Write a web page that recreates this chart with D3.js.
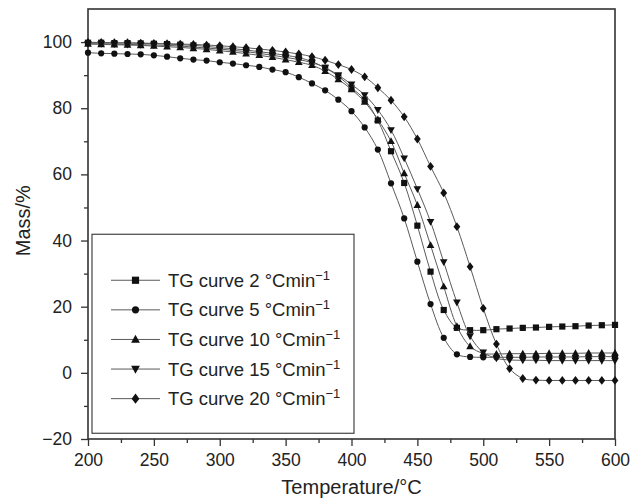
<!DOCTYPE html>
<html>
<head>
<meta charset="utf-8">
<script src="https://cdn.jsdelivr.net/npm/d3@7"></script>
<style>
  html, body { margin: 0; padding: 0; background: #fff; overflow: hidden; }
  svg { display: block; }
</style>
</head>
<body>
<svg id="chart"></svg>
<script>
/* data, mass % every 10 degC */
var temps = d3.range(200, 601, 10);

var tg2 = [99.8, 99.8, 99.7, 99.7, 99.6, 99.5, 99.4, 99.2, 99.0, 98.7,
           98.3, 98.0, 97.6, 97.1, 96.6, 96.0, 95.3, 94.1, 92.2, 89.7,
           86.2, 82.6, 76.3, 67.0, 57.4, 44.5, 30.6, 19.0, 13.6, 12.9,
           12.9, 13.2, 13.4, 13.6, 13.7, 13.9, 14.0, 14.1, 14.3, 14.4, 14.5];

var tg5 = [96.8, 96.6, 96.5, 96.4, 96.3, 96.0, 95.6, 95.1, 94.7, 94.4,
           93.9, 93.5, 93.0, 92.5, 91.7, 90.9, 89.4, 87.5, 85.4, 82.6,
           79.1, 74.2, 67.5, 57.3, 46.7, 33.6, 20.8, 10.6, 5.6, 4.8,
           4.7, 4.7, 4.7, 4.7, 4.8, 4.8, 4.8, 4.8, 4.9, 4.9, 4.9];

var tg10 = [99.4, 99.3, 99.2, 99.1, 99.0, 98.8, 98.6, 98.4, 98.1, 97.8,
            97.4, 97.0, 96.5, 96.0, 95.4, 94.7, 93.9, 93.0, 91.2, 88.7,
            85.7, 81.9, 76.6, 70.0, 60.3, 50.7, 38.6, 26.1, 14.1, 8.0,
            5.9, 5.7, 5.8, 5.8, 5.8, 5.9, 5.9, 5.9, 6.0, 6.0, 6.0];

var tg15 = [99.5, 99.5, 99.4, 99.3, 99.2, 99.1, 99.0, 98.8, 98.5, 98.2,
            97.9, 97.5, 97.1, 96.6, 96.0, 95.4, 94.7, 93.8, 92.3, 90.0,
            87.2, 84.0, 79.5, 73.4, 64.9, 55.6, 45.7, 33.5, 21.3, 11.1,
            6.2, 4.4, 3.9, 3.8, 3.8, 3.7, 3.7, 3.7, 3.7, 3.7, 3.7];

var tg20 = [99.9, 99.9, 99.8, 99.8, 99.7, 99.6, 99.5, 99.4, 99.3, 99.1,
            98.9, 98.6, 98.3, 97.9, 97.5, 97.0, 96.4, 95.6, 94.5, 93.2,
            91.7, 89.5, 86.2, 82.4, 77.4, 70.7, 62.4, 54.4, 44.2, 32.1,
            19.5, 8.7, 1.3, -1.7, -2.2, -2.3, -2.3, -2.3, -2.3, -2.3, -2.3];

var seriesNames = ["TG curve 2 \u00b0Cmin", "TG curve 5 \u00b0Cmin", "TG curve 10 \u00b0Cmin",
                   "TG curve 15 \u00b0Cmin", "TG curve 20 \u00b0Cmin"];
var seriesValues = [tg2, tg5, tg10, tg15, tg20];
var seriesMarkers = ["square", "circle", "triangleUp", "triangleDown", "diamond"];

var xTicks = [200, 250, 300, 350, 400, 450, 500, 550, 600];
var yTicks = [-20, 0, 20, 40, 60, 80, 100];

/* settings */
var width = 630,
    height = 502,
    margin = { top: 9, right: 15, bottom: 63, left: 88 },
    innerWidth = width - margin.left - margin.right,
    innerHeight = height - margin.top - margin.bottom,
    fontFamily = "Liberation Sans, Arial, Helvetica, sans-serif",
    textColor = "#222";

var svg = d3.select("#chart")
    .attr("width", width)
    .attr("height", height)
    .attr("viewBox", "0 0 " + width + " " + height)
    .attr("font-family", fontFamily);

var g = svg.append("g")
    .attr("transform", "translate(" + margin.left + "," + margin.top + ")");

/* scales */
var xScale = d3.scaleLinear().domain([200, 600]).range([0, innerWidth]);
var yScale = d3.scaleLinear().domain([-20, 110]).range([innerHeight, 0]);

/* marker shapes */
function markerPath(kind, s) {
    var h = s / 2;
    if (kind == "square") return "M" + (-h) + "," + (-h) + "h" + s + "v" + s + "h" + (-s) + "Z";
    if (kind == "circle") return d3.symbol().type(d3.symbolCircle).size(Math.PI * h * h)();
    if (kind == "triangleUp") return "M0," + (-h * 1.15) + "L" + (h * 1.1) + "," + (h * 0.8) + "L" + (-h * 1.1) + "," + (h * 0.8) + "Z";
    if (kind == "triangleDown") return "M0," + (h * 1.15) + "L" + (h * 1.1) + "," + (-h * 0.8) + "L" + (-h * 1.1) + "," + (-h * 0.8) + "Z";
    if (kind == "diamond") return "M0," + (-h * 1.3) + "L" + h + ",0L0," + (h * 1.3) + "L" + (-h) + ",0Z";
}
var markerSize = { square: 6.2, circle: 6.2, triangleUp: 7, triangleDown: 7, diamond: 6.8 };

/* x-axis */
var xAxis = d3.axisBottom(xScale).tickValues(xTicks).tickSize(7).tickPadding(8).tickFormat(d3.format("d"));
var xMinor = d3.axisBottom(xScale).tickValues(d3.range(225, 600, 50)).tickSize(4).tickFormat("");

g.append("g").attr("class", "x-axis").attr("transform", "translate(0," + innerHeight + ")").call(xAxis);
g.append("g").attr("class", "x-minor").attr("transform", "translate(0," + innerHeight + ")").call(xMinor);

/* y-axis */
var yAxis = d3.axisLeft(yScale).tickValues(yTicks).tickSize(7).tickPadding(9)
    .tickFormat(function(d) { return d < 0 ? "\u2212" + Math.abs(d) : d; });
var yMinor = d3.axisLeft(yScale).tickValues(d3.range(-10, 110, 20)).tickSize(4).tickFormat("");

g.append("g").attr("class", "y-axis").call(yAxis);
g.append("g").attr("class", "y-minor").call(yMinor);

g.selectAll(".domain").remove();
g.selectAll(".x-axis, .y-axis, .x-minor, .y-minor")
    .attr("font-family", fontFamily)
    .attr("font-size", 17.5);
g.selectAll(".tick text").attr("fill", textColor).attr("font-size", 17.5);
g.selectAll(".tick line").attr("stroke", "#333").attr("stroke-width", 1.3);

/* frame */
g.append("rect")
    .attr("width", innerWidth)
    .attr("height", innerHeight)
    .attr("fill", "none")
    .attr("stroke", "#333")
    .attr("stroke-width", 1.6);

/* axis labels */
svg.append("text")
    .attr("x", margin.left + innerWidth / 2)
    .attr("y", 494)
    .attr("text-anchor", "middle")
    .attr("font-size", 20)
    .attr("fill", textColor)
    .text("Temperature/\u00b0C");

var yLabelX = 30, yLabelY = margin.top + yScale(46);
svg.append("text")
    .attr("x", yLabelX)
    .attr("y", yLabelY)
    .attr("transform", "rotate(-90," + yLabelX + "," + yLabelY + ")")
    .attr("text-anchor", "middle")
    .attr("font-size", 20)
    .attr("fill", textColor)
    .text("Mass/%");

/* legend box (drawn under the curves) */
var legendX = margin.left + 4, legendY = margin.top + yScale(41.9);
var legendW = 262, legendH = 199;
svg.append("rect")
    .attr("x", legendX)
    .attr("y", legendY)
    .attr("width", legendW)
    .attr("height", legendH)
    .attr("fill", "#fff")
    .attr("stroke", "#333")
    .attr("stroke-width", 1.1);

/* curves */
var line = d3.line()
    .x(function(d) { return xScale(d.t); })
    .y(function(d) { return yScale(d.v); })
    .curve(d3.curveCatmullRom);

var curves = svg.append("g")
    .attr("transform", "translate(" + margin.left + "," + margin.top + ")");

seriesValues.forEach(function(vals, i) {
    var pts = temps.map(function(t, k) { return { t: t, v: vals[k] }; });
    var sg = curves.append("g").attr("class", "series s" + i);
    sg.append("path")
        .datum(pts)
        .attr("d", line)
        .attr("fill", "none")
        .attr("stroke", "#5a5a5a")
        .attr("stroke-width", 1);
    sg.selectAll("path.mk")
        .data(pts)
        .enter()
        .append("path")
        .attr("class", "mk")
        .attr("transform", function(d) { return "translate(" + xScale(d.t) + "," + yScale(d.v) + ")"; })
        .attr("d", markerPath(seriesMarkers[i], markerSize[seriesMarkers[i]]))
        .attr("fill", "#111");
});

/* legend entries */
seriesNames.forEach(function(name, i) {
    var ly = legendY + 46 + i * 29.6;
    svg.append("line")
        .attr("x1", legendX + 19).attr("x2", legendX + 68)
        .attr("y1", ly).attr("y2", ly)
        .attr("stroke", "#5a5a5a").attr("stroke-width", 1);
    svg.append("path")
        .attr("transform", "translate(" + (legendX + 43.5) + "," + ly + ")")
        .attr("d", markerPath(seriesMarkers[i], markerSize[seriesMarkers[i]] + 1))
        .attr("fill", "#111");
    var txt = svg.append("text")
        .attr("x", legendX + 76)
        .attr("y", ly + 6.5)
        .attr("font-size", 18.5)
        .attr("fill", textColor)
        .text(name);
    var tw = txt.node().getComputedTextLength();
    svg.append("text")
        .attr("x", legendX + 76 + tw)
        .attr("y", ly - 0.5)
        .attr("font-size", 13)
        .attr("fill", textColor)
        .text("\u22121");
});
</script>
</body>
</html>
